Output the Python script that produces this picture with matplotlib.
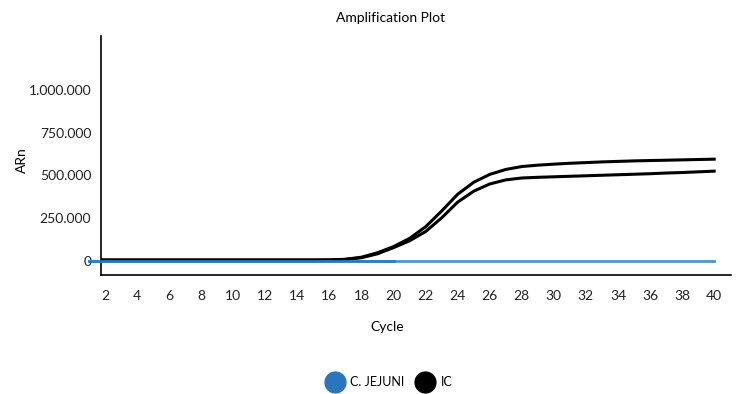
import matplotlib
matplotlib.use("Agg")
import matplotlib.pyplot as plt
from matplotlib.lines import Line2D
from matplotlib.ticker import FuncFormatter

plt.rcParams['font.family'] = ['Lato', 'DejaVu Sans']

cycles = list(range(1, 41))

# IC, upper curve
ic_a = [6000, 6000, 6000, 6000, 6000, 6000, 6000, 6000, 6000, 6000,
        6000, 6000, 6000, 6000, 6000, 6500, 10000, 22000, 48000, 84000,
        132000, 200000, 292000, 390000, 460000, 506000, 535000, 552000, 560000, 566000,
        571000, 575000, 579000, 582000, 585000, 587000, 589000, 591000, 593000, 595000]
# IC, lower curve
ic_b = [5000, 5000, 5000, 5000, 5000, 5000, 5000, 5000, 5000, 5000,
        5000, 5000, 5000, 5000, 5000, 5500, 9000, 19000, 42000, 78000,
        118000, 172000, 252000, 344000, 408000, 450000, 474000, 485000, 489000, 492000,
        495000, 498000, 501000, 504000, 507000, 510000, 514000, 517000, 521000, 525000]
# C. jejuni, flat at zero
cj_long = [0] * 40
cj_short = [0] * 20

yticks = [0, 250000, 500000, 750000, 1000000]
xticks = list(range(2, 41, 2))

blue = '#2a76bd'

fig = plt.figure(figsize=(7.36, 3.94), dpi=100)
ax = fig.add_axes([101 / 736, 1 - 275 / 394, 630 / 736, 239 / 394])

ax.plot(cycles, cj_long, color=blue, lw=2, alpha=0.8, clip_on=False, zorder=3)
ax.plot(cycles[:20], cj_short, color=blue, lw=2, alpha=0.8, clip_on=False, zorder=3)
ax.plot(cycles, ic_a, color='black', lw=2.2, zorder=2)
ax.plot(cycles, ic_b, color='black', lw=2.2, zorder=2)

ax.set_xlim(1.75, 41.05)
ax.set_ylim(-82000, 1315000)
ax.set_xticks(xticks)
ax.set_yticks(yticks)
ax.yaxis.set_major_formatter(FuncFormatter(lambda v, p: f"{int(v):,}".replace(",", ".")))
ax.tick_params(axis='both', length=0, labelsize=10, colors='#222222')
ax.tick_params(axis='x', pad=11)
ax.tick_params(axis='y', pad=7)

for s in ['top', 'right']:
    ax.spines[s].set_visible(False)
for s in ['left', 'bottom']:
    ax.spines[s].set_linewidth(1.2)

fig.text(391 / 736, 1 - 18 / 394, "Amplification Plot", ha='center', va='center', fontsize=10)
fig.text(387 / 736, 1 - 327 / 394, "Cycle", ha='center', va='center', fontsize=10)
fig.text(22 / 736, 1 - 160 / 394, "ARn", ha='center', va='center', fontsize=10, rotation=90)

handles = [Line2D([], [], ls='none', marker='o', markersize=15, color=blue),
           Line2D([], [], ls='none', marker='o', markersize=15, color='black')]
fig.legend(handles, ["C. JEJUNI", "IC"], loc='center', bbox_to_anchor=(389 / 736, 1 - 382 / 394),
           ncol=2, frameon=False, fontsize=9, handletextpad=0.5, columnspacing=0.9,
           handlelength=1.5)

fig.savefig("out.png", dpi=100)
